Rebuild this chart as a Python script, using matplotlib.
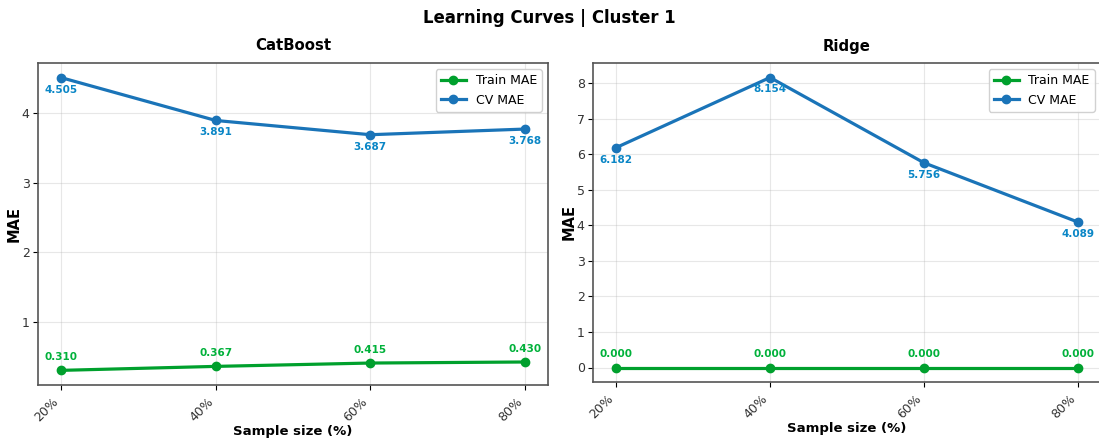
import numpy as np
import matplotlib
matplotlib.use("Agg")
import matplotlib.pyplot as plt

sizes = ["20%", "40%", "60%", "80%"]
cat_train = [0.310, 0.367, 0.415, 0.430]
cat_cv = [4.505, 3.891, 3.687, 3.768]
ridge_train = [0.000, 0.000, 0.000, 0.000]
ridge_cv = [6.182, 8.154, 5.756, 4.089]

train_col = "#00a02d"
cv_col = "#1a74b8"
train_txt = "#00b13a"
cv_txt = "#0a86c6"

W, H = 1099, 441
fig = plt.figure(figsize=(W / 100, H / 100), dpi=100)
ax1 = fig.add_axes([38 / W, (H - 385) / H, 510 / W, 322 / H])
ax2 = fig.add_axes([593 / W, (H - 382) / H, 508 / W, 319 / H])

x = np.arange(len(sizes))

for ax, title, tr, cv in [(ax1, "CatBoost", cat_train, cat_cv),
                          (ax2, "Ridge", ridge_train, ridge_cv)]:
    ax.plot(x, tr, "-o", color=train_col, lw=2.3, ms=6, label="Train MAE")
    ax.plot(x, cv, "-o", color=cv_col, lw=2.3, ms=6, label="CV MAE")
    for xi, v in zip(x, tr):
        ax.annotate(f"{v:.3f}", (xi, v), xytext=(0, 6), textcoords="offset points",
                    ha="center", va="bottom", fontsize=7.5, fontweight="bold", color=train_txt)
    for xi, v in zip(x, cv):
        ax.annotate(f"{v:.3f}", (xi, v), xytext=(0, -5), textcoords="offset points",
                    ha="center", va="top", fontsize=7.5, fontweight="bold", color=cv_txt)
    ax.set_title(title, fontsize=10.7, fontweight="bold", pad=9)
    ax.set_ylabel("MAE", fontsize=10.5, fontweight="bold", labelpad=0)
    ax.set_xlabel("Sample size (%)", fontsize=9.5, fontweight="bold", labelpad=1)
    ax.set_xticks(x)
    ax.set_xticklabels(sizes, rotation=45, ha="right", fontsize=9, color="#333333")
    ax.tick_params(axis="y", labelsize=9, labelcolor="#333333", pad=2.5)
    ax.grid(True, alpha=0.3)
    for s in ax.spines.values():
        s.set_color("#555555")
        s.set_linewidth(1.2)
    ax.legend(loc="upper right", fontsize=9, framealpha=0.9)

fig.suptitle("Learning Curves | Cluster 1", fontsize=11.9, fontweight="bold", y=0.98)
fig.savefig("out.png", dpi=100)
